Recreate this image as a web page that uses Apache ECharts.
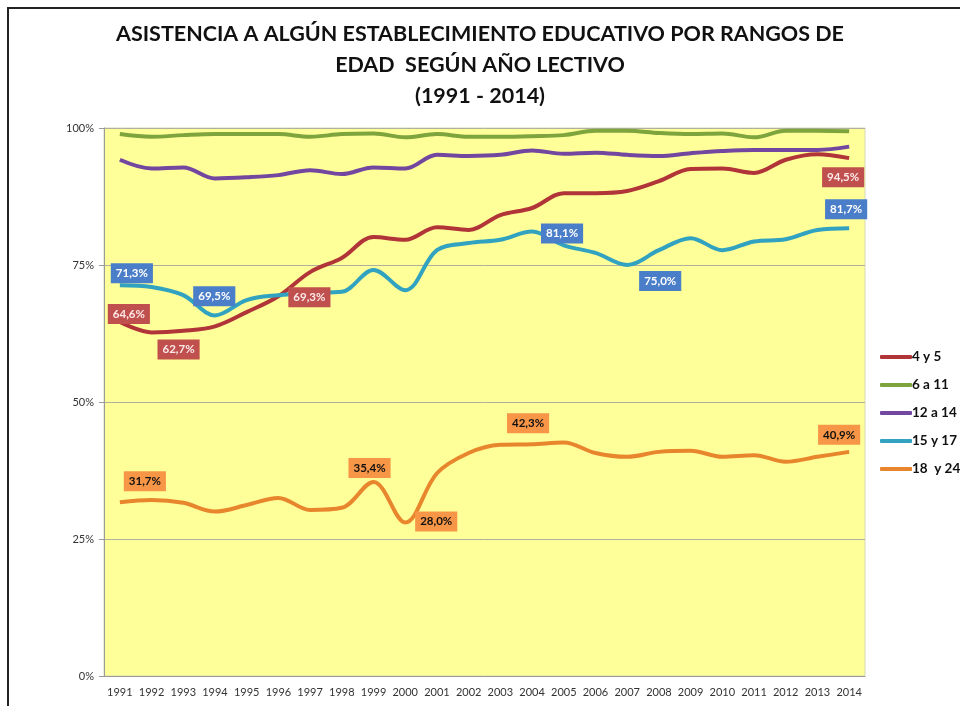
<!DOCTYPE html>
<html>
<head>
<meta charset="utf-8">
<script src="https://cdn.jsdelivr.net/npm/echarts@6/dist/echarts.min.js"></script>
<style>
  html, body { margin: 0; padding: 0; background: #fff; }
  #chart { width: 960px; height: 706px; }
</style>
</head>
<body>
<div id="chart"></div>
<script>
// años lectivos
const years = ['1991', '1992', '1993', '1994', '1995', '1996', '1997', '1998', '1999', '2000', '2001', '2002',
  '2003', '2004', '2005', '2006', '2007', '2008', '2009', '2010', '2011', '2012', '2013', '2014']

// % de asistencia por rango de edad
const edad4y5 = [64.6, 62.7, 63.0, 63.8, 66.4, 69.3, 73.7, 76.3, 80.1, 79.6, 81.9, 81.4,
  84.1, 85.4, 88.1, 88.1, 88.5, 90.3, 92.5, 92.6, 91.8, 94.2, 95.2, 94.5]
const edad6a11 = [98.9, 98.4, 98.7, 98.9, 98.9, 98.9, 98.4, 98.9, 99.0, 98.3, 98.9, 98.4,
  98.4, 98.5, 98.7, 99.5, 99.5, 99.1, 98.9, 99.0, 98.3, 99.5, 99.5, 99.4]
const edad12a14 = [94.2, 92.6, 92.8, 90.8, 91.0, 91.4, 92.3, 91.6, 92.8, 92.6, 95.1, 94.9,
  95.1, 95.9, 95.3, 95.5, 95.1, 94.9, 95.4, 95.8, 96.0, 96.0, 96.0, 96.6]
const edad15y17 = [71.3, 71.0, 69.5, 65.8, 68.6, 69.5, 69.9, 70.1, 74.1, 70.4, 77.7, 79.0,
  79.6, 81.1, 78.6, 77.2, 75.0, 77.7, 79.9, 77.7, 79.3, 79.7, 81.4, 81.7]
const edad18y24 = [31.7, 32.1, 31.6, 30.0, 31.2, 32.5, 30.3, 30.7, 35.4, 28.0, 37.0, 40.7,
  42.2, 42.3, 42.6, 40.7, 40.0, 40.9, 41.1, 40.0, 40.3, 39.1, 40.0, 40.9]

// etiquetas visibles: [índice, dx, dy]
const etiquetas4y5 = [[0, 9, -8], [1, 27, 17], [5, 31, 1], [23, -6, 19]]
const etiquetas15y17 = [[0, 12, -12], [2, 31, 1], [13, 30, 2], [16, 33, 16], [23, -3, -19]]
const etiquetas18y24 = [[0, 25, -21], [8, -4, -14], [9, 31, -1], [13, -4, -21], [23, -10, -17]]

const fmt = (v) => v.toFixed(1).replace('.', ',') + '%'

function buildData(values, labels, bg, fg) {
  return values.map((v, i) => {
    const l = labels.find((x) => x[0] === i)
    if (!l) return v
    return {
      value: v,
      label: {
        show: true,
        position: 'inside',
        offset: [l[1], l[2]],
        formatter: (p) => fmt(p.value),
        backgroundColor: bg,
        color: fg,
        fontFamily: 'Lato',
        fontWeight: 'bold',
        fontSize: 11.5,
        padding: [4, 5, 4, 5],
      },
    }
  })
}

function lineSeries(name, color, data) {
  return {
    name: name,
    type: 'line',
    smooth: 0.35,
    symbol: 'circle',
    symbolSize: 0,
    itemStyle: { color: color },
    lineStyle: { color: color, width: 4 },
    label: { show: false },
    emphasis: { disabled: true },
    data: data,
  }
}

const chart = echarts.init(document.getElementById('chart'))
chart.setOption({
  animation: false,
  backgroundColor: '#fff',
  title: {
    text: 'ASISTENCIA A ALGÚN ESTABLECIMIENTO EDUCATIVO POR RANGOS DE\nEDAD  SEGÚN AÑO LECTIVO\n(1991 - 2014)',
    left: 'center',
    top: 14,
    textStyle: {
      fontFamily: 'Lato',
      fontWeight: 'bold',
      fontSize: 21.5,
      lineHeight: 31,
      color: '#111',
    },
  },
  graphic: [
    {
      type: 'rect',
      shape: { x: 8, y: 8, width: 1000, height: 800 },
      style: { fill: 'none', stroke: '#222', lineWidth: 2 },
      silent: true,
    },
  ],
  legend: {
    orient: 'vertical',
    left: 875,
    top: 345,
    icon: 'roundRect',
    itemWidth: 32,
    itemHeight: 4,
    itemGap: 14,
    textStyle: {
      fontFamily: 'Lato',
      fontWeight: 'bold',
      fontSize: 13.5,
      color: '#111',
      padding: [0, 0, 0, -5],
    },
    data: ['4 y 5', '6 a 11', '12 a 14', '15 y 17', '18  y 24'],
  },
  grid: {
    left: 104,
    top: 128,
    width: 761,
    height: 548,
    show: true,
    backgroundColor: '#FFFF99',
    borderColor: '#d8d8b8',
    borderWidth: 1,
  },
  xAxis: {
    type: 'category',
    data: years,
    boundaryGap: true,
    axisLine: { lineStyle: { color: '#9a9a9a' } },
    axisTick: { show: false },
    axisLabel: { color: '#333', fontFamily: 'Lato', fontSize: 11, margin: 11, interval: 0 },
  },
  yAxis: {
    type: 'value',
    min: 0,
    max: 100,
    interval: 25,
    axisLine: { show: true, lineStyle: { color: '#9a9a9a' } },
    axisTick: { show: true, length: 5, inside: false, lineStyle: { color: '#9a9a9a' } },
    axisLabel: { formatter: '{value}%', color: '#333', fontFamily: 'Lato', fontSize: 11, margin: 10 },
    splitLine: { lineStyle: { color: '#b0b0a0', width: 1 } },
  },
  series: [
    lineSeries('4 y 5', '#B03438', buildData(edad4y5, etiquetas4y5, '#C0504D', '#fbe9e9')),
    lineSeries('6 a 11', '#7EA43E', edad6a11),
    lineSeries('12 a 14', '#7347A0', edad12a14),
    lineSeries('15 y 17', '#31A2C0', buildData(edad15y17, etiquetas15y17, '#4A7EC8', '#ffffff')),
    lineSeries('18  y 24', '#E8862E', buildData(edad18y24, etiquetas18y24, '#F79646', '#111')),
  ],
})
</script>
</body>
</html>
